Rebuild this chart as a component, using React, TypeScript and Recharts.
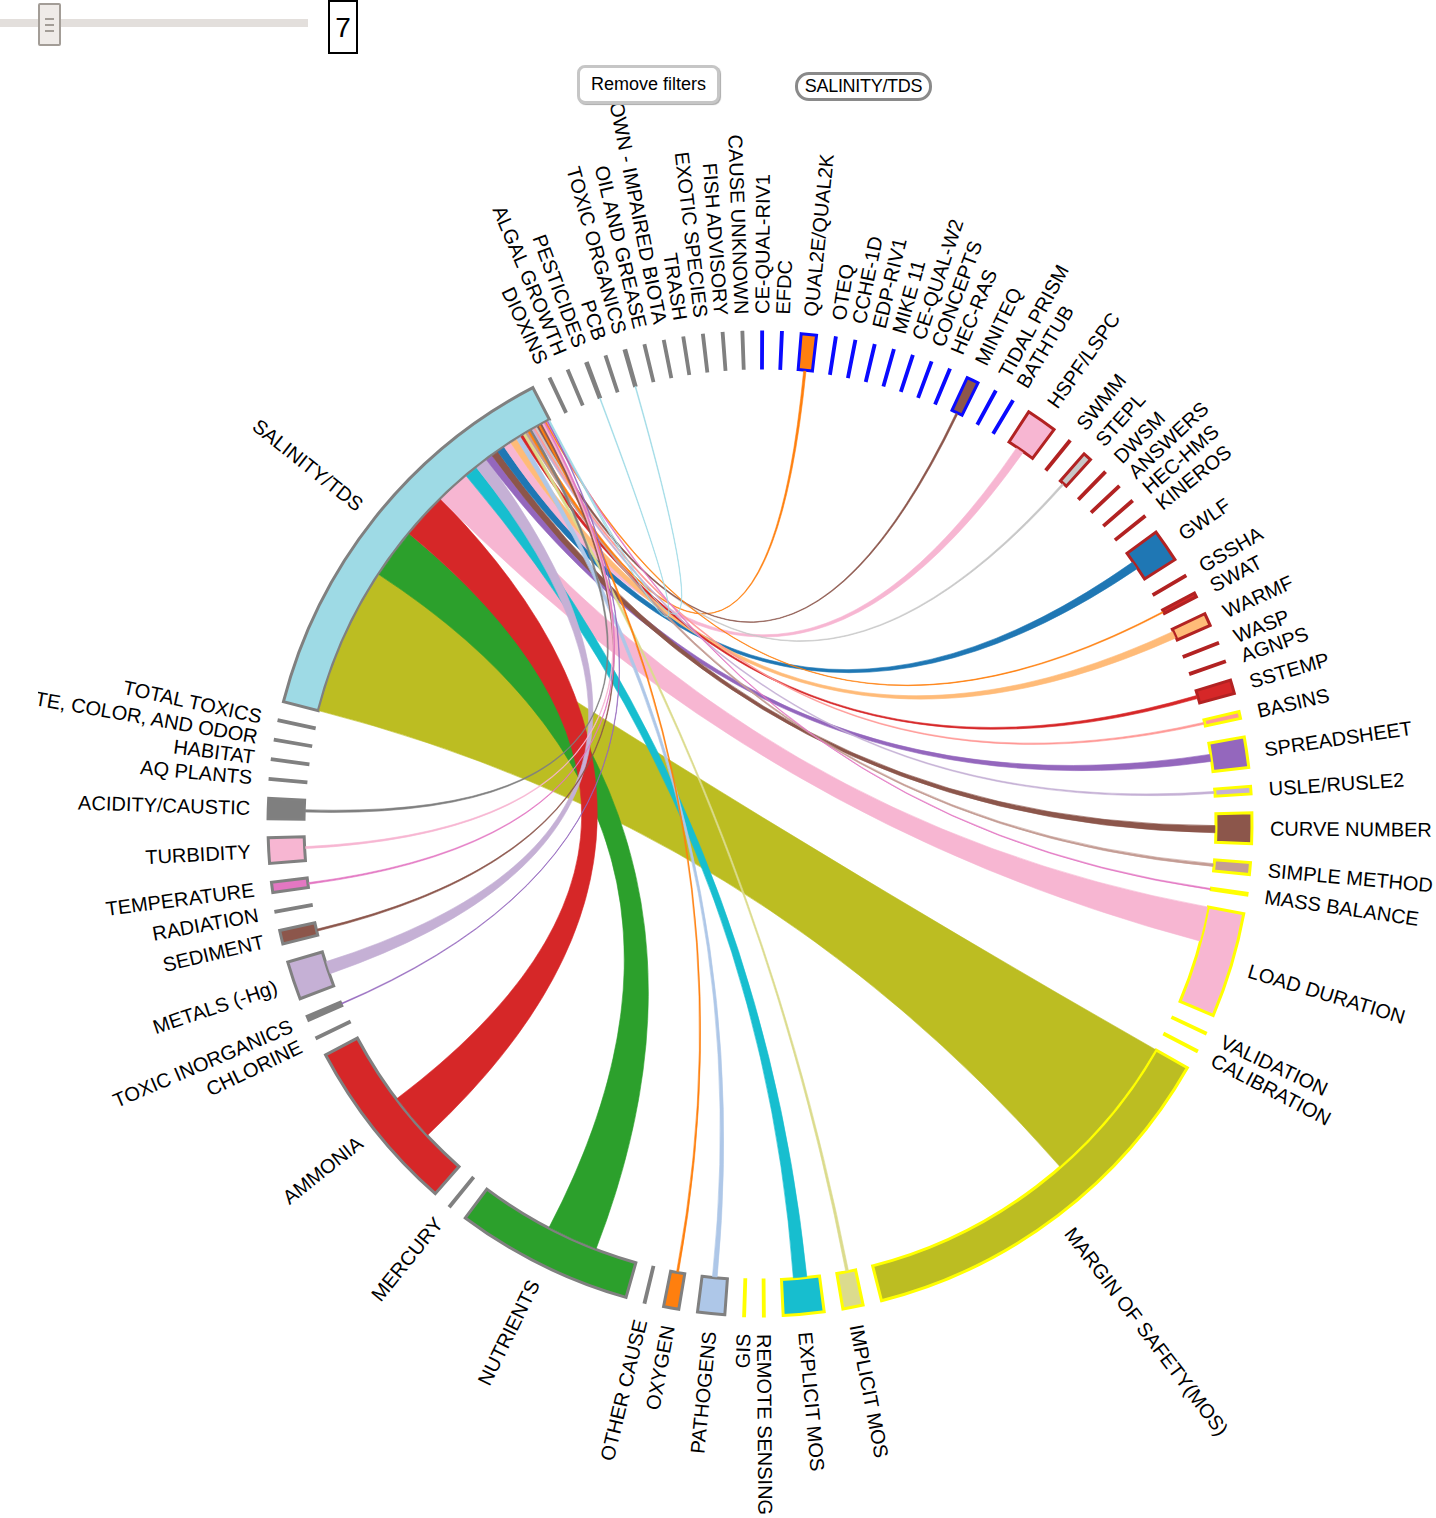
import React from 'react';
import { PieChart, Pie, Cell } from 'recharts';

const RAD = Math.PI / 180;
const INNER = 456;
const OUTER = 492;
const LABEL_R = 510;
const TICK = 0.1;

const GRAY = '#808080';
const BLUE = '#0a0aff';
const DARK_RED = '#b22222';
const YELLOW = '#ffff00';

// nodes, clockwise from the top, filtered cause last
const causesTop = ['DIOXINS', 'ALGAL GROWTH', 'PESTICIDES', 'PCB', 'TOXIC ORGANICS', 'OIL AND GREASE',
  'UNKNOWN - IMPAIRED BIOTA', 'TRASH', 'EXOTIC SPECIES', 'FISH ADVISORY', 'CAUSE UNKNOWN'];
const waterbodyModels = ['CE-QUAL-RIV1', 'EFDC', 'QUAL2E/QUAL2K', 'OTEQ', 'CCHE-1D', 'EDP-RIV1', 'MIKE 11',
  'CE-QUAL-W2', 'CONCEPTS', 'HEC-RAS', 'MINITEQ', 'TIDAL PRISM', 'BATHTUB'];
const watershedModels = ['HSPF/LSPC', 'SWMM', 'STEPL', 'DWSM', 'ANSWERS', 'HEC-HMS', 'KINEROS', 'GWLF',
  'GSSHA', 'SWAT', 'WARMF', 'WASP', 'AGNPS', 'SSTEMP'];
const methods = ['BASINS', 'SPREADSHEET', 'USLE/RUSLE2', 'CURVE NUMBER', 'SIMPLE METHOD', 'MASS BALANCE',
  'LOAD DURATION', 'VALIDATION', 'CALIBRATION', 'MARGIN OF SAFETY(MOS)', 'IMPLICIT MOS', 'EXPLICIT MOS',
  'REMOTE SENSING', 'GIS'];
const causesBottom = ['PATHOGENS', 'OXYGEN', 'OTHER CAUSE', 'NUTRIENTS', 'MERCURY', 'AMMONIA', 'CHLORINE',
  'TOXIC INORGANICS', 'METALS (-Hg)', 'SEDIMENT', 'RADIATION', 'TEMPERATURE', 'TURBIDITY', 'ACIDITY/CAUSTIC',
  'AQ PLANTS', 'HABITAT', 'TASTE, COLOR, AND ODOR', 'TOTAL TOXICS', 'SALINITY/TDS'];

const SOURCE = 'SALINITY/TDS';

// arc sizes of the nodes that are wider than a tick
const arcSizes: Record<string, number> = {
  'PESTICIDES': 0.2, 'TOXIC ORGANICS': 0.2,
  'QUAL2E/QUAL2K': 1.8, 'MINITEQ': 1.4,
  'HSPF/LSPC': 3.6, 'STEPL': 1.0, 'GWLF': 3.9, 'SWAT': 0.5, 'WARMF': 1.5, 'SSTEMP': 1.6,
  'BASINS': 0.8, 'SPREADSHEET': 3.6, 'USLE/RUSLE2': 0.9, 'CURVE NUMBER': 3.6, 'SIMPLE METHOD': 1.4,
  'MASS BALANCE': 0.2, 'LOAD DURATION': 12.4, 'MARGIN OF SAFETY(MOS)': 46.0, 'IMPLICIT MOS': 2.4,
  'EXPLICIT MOS': 4.8,
  'PATHOGENS': 3.2, 'OXYGEN': 1.8, 'NUTRIENTS': 21.0, 'AMMONIA': 20.7, 'TOXIC INORGANICS': 0.5,
  'METALS (-Hg)': 4.5, 'SEDIMENT': 1.6, 'TEMPERATURE': 1.2, 'TURBIDITY': 3.0, 'ACIDITY/CAUSTIC': 2.4,
  'SALINITY/TDS': 48.1,
};

const nodeFills: Record<string, string> = {
  'SALINITY/TDS': '#9edae5', 'QUAL2E/QUAL2K': '#ff7f0e', 'MINITEQ': '#8c564b', 'HSPF/LSPC': '#f7b6d2',
  'STEPL': '#c7c7c7', 'GWLF': '#1f77b4', 'SWAT': '#d62728', 'WARMF': '#ffbb78', 'SSTEMP': '#d62728',
  'BASINS': '#ff9896', 'SPREADSHEET': '#9467bd', 'USLE/RUSLE2': '#c5b0d5', 'CURVE NUMBER': '#8c564b',
  'SIMPLE METHOD': '#c49c94', 'LOAD DURATION': '#f7b6d2', 'MARGIN OF SAFETY(MOS)': '#bcbd22',
  'IMPLICIT MOS': '#dbdb8d', 'EXPLICIT MOS': '#17becf', 'PATHOGENS': '#aec7e8', 'OXYGEN': '#ff7f0e',
  'NUTRIENTS': '#2ca02c', 'AMMONIA': '#d62728', 'METALS (-Hg)': '#c5b0d5', 'SEDIMENT': '#8c564b',
  'TEMPERATURE': '#e377c2', 'TURBIDITY': '#f7b6d2', 'ACIDITY/CAUSTIC': '#7f7f7f',
};

// links from SALINITY/TDS, in the order they leave its arc
const linkTargets = ['MARGIN OF SAFETY(MOS)', 'NUTRIENTS', 'AMMONIA', 'LOAD DURATION', 'EXPLICIT MOS',
  'METALS (-Hg)', 'SPREADSHEET', 'CURVE NUMBER', 'GWLF', 'HSPF/LSPC', 'WARMF', 'PATHOGENS', 'SSTEMP',
  'IMPLICIT MOS', 'SIMPLE METHOD', 'QUAL2E/QUAL2K', 'ACIDITY/CAUSTIC', 'USLE/RUSLE2', 'BASINS', 'STEPL',
  'MINITEQ', 'OXYGEN', 'SEDIMENT', 'TURBIDITY', 'TEMPERATURE', 'SWAT', 'MASS BALANCE', 'TOXIC INORGANICS',
  'PESTICIDES', 'TOXIC ORGANICS'];
const linkValues = [19.1, 6.5, 6.0, 4.4, 1.7, 1.6, 0.9, 0.9, 1.0, 1.0, 0.9, 0.6, 0.4,
  0.35, 0.35, 0.3, 0.3, 0.25, 0.25, 0.25, 0.25, 0.25, 0.25, 0.25, 0.2, 0.15, 0.15, 0.12, 0.1, 0.1];
const linkOffsets = [0, 5.3, 5.6, 0, 1.6, 1.6, 1.4, 1.5, 1.3, 1.2, 0.3, 1.3, 0.6,
  0.9, 0.5, 0.7, 0.9, 0.3, 0.3, 0.4, 0.6, 0.8, 0.5, 1.5, 0.4, 0.2, 0.05, 0.2, 0.05, 0.05];
const linkColors = ['#bcbd22', '#2ca02c', '#d62728', '#f7b6d2', '#17becf', '#c5b0d5', '#9467bd', '#8c564b',
  '#1f77b4', '#f7b6d2', '#ffbb78', '#aec7e8', '#d62728', '#dbdb8d', '#c49c94', '#ff7f0e', '#7f7f7f',
  '#c5b0d5', '#ff9896', '#c7c7c7', '#8c564b', '#ff7f0e', '#8c564b', '#f7b6d2', '#e377c2', '#ff7f0e',
  '#e377c2', '#9467bd', '#9edae5', '#9edae5'];

const groups: Array<[string[], string]> = [
  [causesTop, GRAY], [waterbodyModels, BLUE], [watershedModels, DARK_RED], [methods, YELLOW], [causesBottom, GRAY],
];

const nodes = groups.flatMap(([names, stroke]) =>
  names.map((name) => ({
    name,
    value: arcSizes[name] ?? TICK,
    stroke,
    fill: nodeFills[name] ?? stroke,
  }))
);

const START = 115.3;
const PAD = 2.2;

// angles of the sectors, filled in as recharts lays them out
const arcs: Record<string, { start: number; end: number }> = {};

const pt = (cx: number, cy: number, r: number, a: number) => [cx + r * Math.cos(a * RAD), cy - r * Math.sin(a * RAD)];

const ribbonPath = (cx: number, cy: number, r: number, s0: number, s1: number, t0: number, t1: number) => {
  const [ax, ay] = pt(cx, cy, r, s0);
  const [bx, by] = pt(cx, cy, r, s1);
  const [cx0, cy0] = pt(cx, cy, r, t0);
  const [cx1, cy1] = pt(cx, cy, r, t1);
  const big = (d: number) => (Math.abs(d) > 180 ? 1 : 0);
  return `M${ax},${ay} A${r},${r} 0 ${big(s0 - s1)} 1 ${bx},${by} Q${cx},${cy} ${cx0},${cy0} `
    + `A${r},${r} 0 ${big(t0 - t1)} 1 ${cx1},${cy1} Q${cx},${cy} ${ax},${ay} Z`;
};

const renderRibbons = (props: any) => {
  const node = nodes[props.index];
  if (!node) return <g />;
  arcs[node.name] = { start: props.startAngle, end: props.endAngle };
  if (props.index !== nodes.length - 1) return <g />;

  const src = arcs[SOURCE];
  const unit = (src.start - src.end) / node.value;
  const total = linkValues.reduce((s, v) => s + v, 0);
  const srcUnit = (src.start - src.end) / total;
  let cursor = src.start;
  return (
    <g>
      {linkTargets.map((target, i) => {
        const s0 = cursor;
        const s1 = cursor - linkValues[i] * srcUnit;
        cursor = s1;
        const tgt = arcs[target];
        if (!tgt) return null;
        const t0 = tgt.start - linkOffsets[i] * unit;
        const t1 = t0 - linkValues[i] * unit;
        return (
          <path
            key={target}
            d={ribbonPath(props.cx, props.cy, INNER - 1, s0, s1, t0, t1)}
            fill={linkColors[i]}
            stroke={linkColors[i]}
            strokeWidth={0.6}
          />
        );
      })}
    </g>
  );
};

const renderNodeLabel = (props: any) => {
  const node = nodes[props.index];
  if (!node) return <g />;
  let a = props.midAngle;
  while (a > 180) a -= 360;
  while (a <= -180) a += 360;
  const [x, y] = pt(props.cx, props.cy, LABEL_R, a);
  const flip = a > 90 || a < -90;
  const rot = flip ? 180 - a : -a;
  return (
    <text
      transform={`translate(${x},${y}) rotate(${rot})`}
      textAnchor={flip ? 'end' : 'start'}
      dy="0.35em"
      fontSize={20}
      fontFamily="'Liberation Sans', Arial, sans-serif"
      fill="#000"
    >
      {node.name}
    </text>
  );
};

const App: React.FC = () => {
  return (
    <div style={{ position: 'absolute', left: 0, top: 0, width: 1436, height: 1518, background: '#fff',
      fontFamily: "'Liberation Sans', Arial, sans-serif" }}>
      {/* chord diagram */}
      <div style={{ position: 'absolute', left: 38, top: 105, width: 1398, height: 1413, overflow: 'hidden' }}>
        <PieChart width={1398} height={1413} margin={{ top: 0, right: 0, bottom: 0, left: 0 }}>
          <Pie
            data={nodes}
            dataKey="value"
            nameKey="name"
            cx={722}
            cy={719}
            innerRadius={INNER}
            outerRadius={OUTER}
            startAngle={START}
            endAngle={START - 360}
            paddingAngle={PAD}
            fill="none"
            stroke="none"
            label={renderRibbons}
            labelLine={false}
            isAnimationActive={false}
            legendType="none"
          />
          <Pie
            data={nodes}
            dataKey="value"
            nameKey="name"
            cx={722}
            cy={719}
            innerRadius={INNER}
            outerRadius={OUTER}
            startAngle={START}
            endAngle={START - 360}
            paddingAngle={PAD}
            label={renderNodeLabel}
            labelLine={false}
            isAnimationActive={false}
            legendType="none"
          >
            {nodes.map((n) => (
              <Cell key={n.name} fill={n.fill} stroke={n.stroke} strokeWidth={3} />
            ))}
          </Pie>
        </PieChart>
      </div>

      {/* slider */}
      <div style={{ position: 'absolute', left: 0, top: 19, width: 308, height: 8, background: '#e3dfdc' }} />
      <div style={{ position: 'absolute', left: 38, top: 3, width: 19, height: 39, border: '2px solid #a39d97',
        background: '#efebe8', borderRadius: 2 }}>
        {[13, 19, 25].map((t) => (
          <div key={t} style={{ position: 'absolute', left: 5, top: t, width: 9, height: 2, background: '#a39d97' }} />
        ))}
      </div>
      <div style={{ position: 'absolute', left: 328, top: 0, width: 26, height: 50, border: '2.5px solid #000',
        fontSize: 28, lineHeight: '52px', textAlign: 'center', color: '#000' }}>7</div>

      {/* filter buttons */}
      <div style={{ position: 'absolute', left: 577, top: 65, width: 137, height: 33, border: '3px solid #c6c6c6',
        borderRadius: 8, background: '#fff', fontSize: 18, lineHeight: '32px', textAlign: 'center', color: '#000',
        boxShadow: '1px 1px 1px #aaa' }}>
        Remove filters
      </div>
      <div style={{ position: 'absolute', left: 795, top: 72, width: 131, height: 23, border: '3px solid #8a8a8a',
        borderRadius: 14, background: '#fff', fontSize: 18, lineHeight: '23px', textAlign: 'center', color: '#000',
        letterSpacing: -0.3 }}>
        SALINITY/TDS
      </div>
    </div>
  );
};

export default App;
